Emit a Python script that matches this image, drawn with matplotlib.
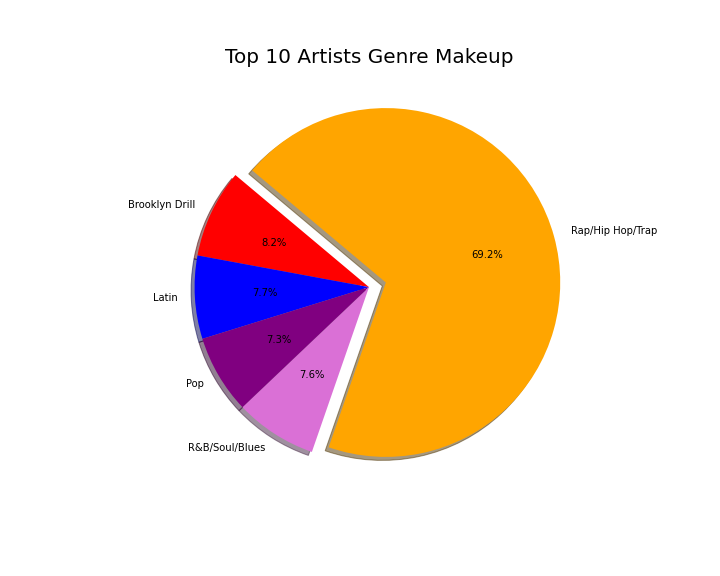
import matplotlib
matplotlib.use('Agg')
import matplotlib.pyplot as plt

# genre share of the top 10 artists
genres = ['Brooklyn Drill', 'Latin', 'Pop', 'R&B/Soul/Blues', 'Rap/Hip Hop/Trap']
shares = [8.2, 7.7, 7.3, 7.6, 69.2]
colors = ['red', 'blue', 'purple', 'orchid', 'orange']
explode = [0, 0, 0, 0, 0.1]

fig = plt.figure(figsize=(10, 8), dpi=72)
ax = fig.add_axes([0.125, 0.123, 0.775, 0.757])
ax.pie(shares, labels=genres, colors=colors, explode=explode,
       autopct='%1.1f%%', shadow=True, startangle=140)
ax.set_title('Top 10 Artists Genre Makeup', fontsize=20)

fig.savefig('out.png', dpi=72)
